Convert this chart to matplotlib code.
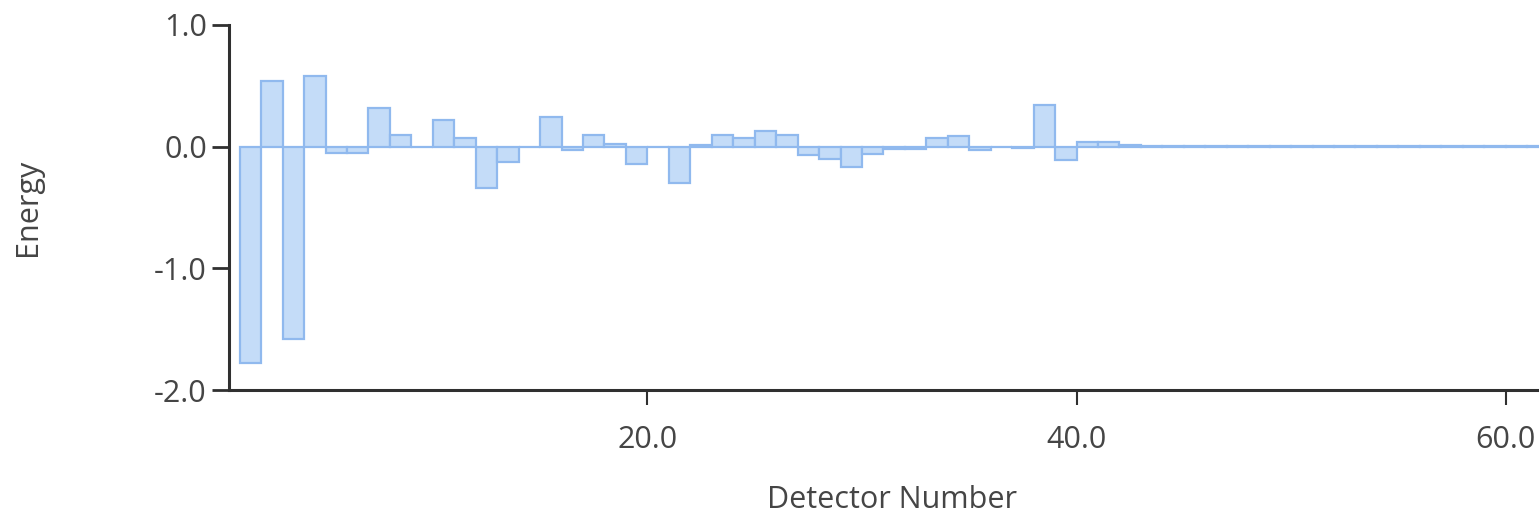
import matplotlib
matplotlib.use("Agg")
import matplotlib.pyplot as plt

# Per-detector energy values
detectors = list(range(1, 63))
energy = [
    -1.78, 0.54, -1.58, 0.58, -0.05, -0.05, 0.32, 0.10, 0.00, 0.22,
    0.07, -0.34, -0.13, 0.00, 0.24, -0.03, 0.10, 0.02, -0.14, 0.00,
    -0.30, 0.01, 0.10, 0.07, 0.13, 0.10, -0.07, -0.10, -0.17, -0.06,
    -0.02, -0.02, 0.07, 0.09, -0.03, 0.00, -0.01, 0.34, -0.11, 0.04,
    0.04, 0.01, 0.005, 0.004, 0.003, 0.004, 0.003, 0.002, 0.003, 0.002,
    0.003, 0.002, 0.002, 0.003, 0.002, 0.002, 0.002, 0.002, 0.003, 0.002,
    0.002, 0.002,
]
x_ticks = [20, 40, 60]
y_ticks = [-2.0, -1.0, 0.0, 1.0]

plt.rcParams["font.family"] = ["Open Sans", "DejaVu Sans"]
text_color = "#454545"
axis_color = "#303030"

W, H = 1539, 528
fig = plt.figure(figsize=(W / 100, H / 100), dpi=100)
ax = fig.add_axes([229 / W, 1 - 390 / H, (1555 - 229) / W, (390 - 25) / H])

ax.bar(detectors, energy, width=1.0, align="edge",
       facecolor="#c4dcf8", edgecolor="#90b9ee", linewidth=1.6)

ax.set_xlim(0.5, 62.3)
ax.set_ylim(-2.0, 1.0)
ax.set_xticks(x_ticks)
ax.set_xticklabels([f"{t:.1f}" for t in x_ticks])
ax.set_yticks(y_ticks)
ax.set_yticklabels([f"{t:.1f}" for t in y_ticks])

for side in ("top", "right"):
    ax.spines[side].set_visible(False)
for side in ("left", "bottom"):
    ax.spines[side].set_color(axis_color)
    ax.spines[side].set_linewidth(2.2)

ax.tick_params(axis="y", length=12, width=2, color=axis_color,
               labelsize=22, labelcolor=text_color, pad=4)
ax.tick_params(axis="x", length=11, width=1.5, color=axis_color,
               labelsize=22, labelcolor=text_color, pad=14)

ax.set_xlabel("Detector Number", fontsize=22, color=text_color, labelpad=22)
ax.set_ylabel("Energy", fontsize=22, color=text_color, labelpad=80)

fig.savefig("out.png", dpi=100)
